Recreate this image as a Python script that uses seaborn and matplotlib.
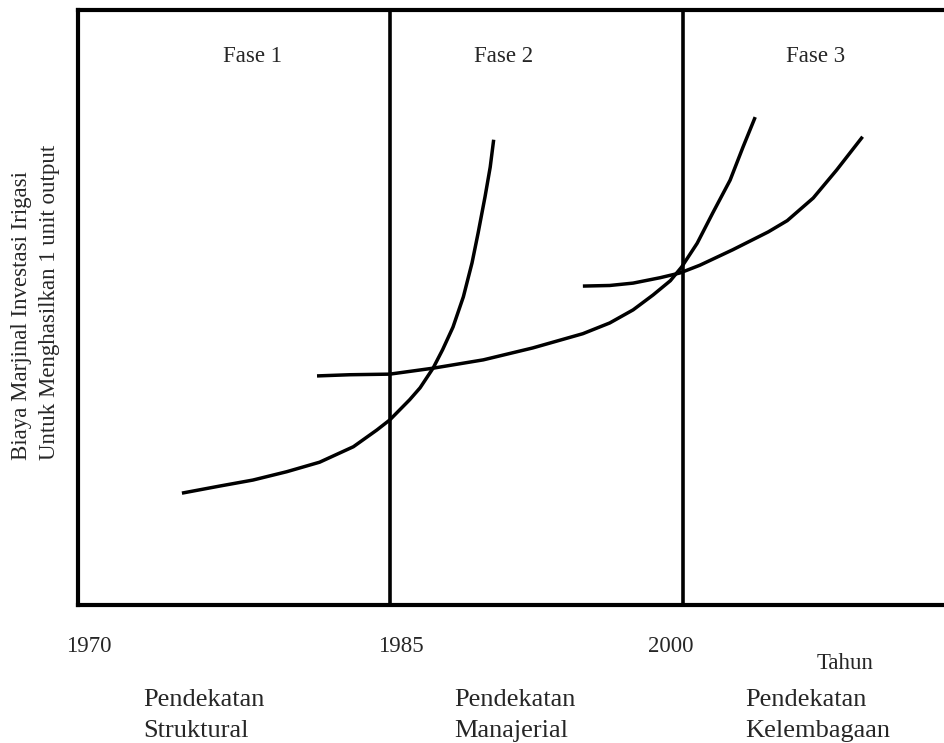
"""
Schematic chart: marginal cost of irrigation investment per unit output
across three phases (1970 - 2000+).

Outputs:
    out.png
"""

import matplotlib.pyplot as plt
import seaborn as sns


# ---------------------------------------------------------------------
# Data (x: position along the time axis, 0-100; y: relative cost, 0-100)
# ---------------------------------------------------------------------

CURVE_1_X = [12.0, 16.4, 20.2, 24.1, 27.9, 31.8, 34.5, 36.0, 38.3, 39.5,
             41.0, 42.1, 43.3, 44.5, 45.5, 46.2, 47.0, 47.6, 48.0]
CURVE_1_Y = [18.8, 20.0, 21.0, 22.4, 24.0, 26.6, 29.4, 31.1, 34.5, 36.5,
             39.8, 42.9, 46.7, 51.8, 57.5, 62.5, 68.6, 73.6, 78.2]

CURVE_2_X = [27.6, 31.4, 36.0, 41.0, 46.8, 52.5, 58.3, 61.4, 64.1, 66.4,
             68.4, 69.7, 71.5, 73.3, 75.3, 76.8, 78.2]
CURVE_2_Y = [38.5, 38.7, 38.8, 39.8, 41.2, 43.2, 45.6, 47.4, 49.6, 52.1,
             54.5, 56.8, 60.8, 65.9, 71.4, 77.0, 82.0]

CURVE_3_X = [58.3, 61.4, 64.1, 67.2, 69.5, 71.8, 75.6, 79.7, 81.9, 84.9,
             87.6, 90.6]
CURVE_3_Y = [53.6, 53.7, 54.1, 55.0, 55.8, 57.1, 59.7, 62.7, 64.6, 68.4,
             73.1, 78.7]

PHASE_BOUNDS = [36.0, 69.9]

PHASE_LABELS = ["Fase 1", "Fase 2", "Fase 3"]
PHASE_LABEL_X = [20.1, 49.1, 85.2]

YEAR_LABELS = ["1970", "1985", "2000"]
YEAR_TICK_X = [1.3, 37.3, 68.5]

APPROACH_LINE_1 = ["Pendekatan", "Pendekatan", "Pendekatan"]
APPROACH_LINE_2 = ["Struktural", "Manajerial", "Kelembagaan"]
APPROACH_X = [7.5, 43.5, 77.0]

Y_LABEL_LINES = ["Biaya Marjinal Investasi Irigasi",
                 "Untuk Menghasilkan 1 unit output"]


def main():
    sns.set_theme(style="white")
    plt.rcParams["font.family"] = ["Liberation Serif", "DejaVu Serif"]

    fig = plt.figure(figsize=(9.44, 7.43), dpi=100)
    ax = fig.add_axes([78 / 944, 138 / 743, 1 - 78 / 944, 595 / 743])

    for xs, ys in [(CURVE_1_X, CURVE_1_Y),
                   (CURVE_2_X, CURVE_2_Y),
                   (CURVE_3_X, CURVE_3_Y)]:
        sns.lineplot(x=xs, y=ys, ax=ax, color="black", linewidth=2.5,
                     sort=False, estimator=None, solid_capstyle="butt",
                     solid_joinstyle="round")

    for xb in PHASE_BOUNDS:
        ax.axvline(xb, color="black", linewidth=2.6)

    ax.set_xlim(0, 100)
    ax.set_ylim(0, 100)

    for side in ["left", "top", "bottom"]:
        ax.spines[side].set_color("black")
        ax.spines[side].set_linewidth(3)
    ax.spines["right"].set_visible(False)

    ax.set_yticks([])
    ax.set_xticks(YEAR_TICK_X)
    ax.set_xticklabels(YEAR_LABELS, fontsize=16.5)
    ax.tick_params(axis="x", length=0, pad=22)

    for label, x in zip(PHASE_LABELS, PHASE_LABEL_X):
        ax.text(x, 91.3, label, fontsize=16.5, ha="center", va="baseline")

    ax.text(88.6, -10.8, "Tahun", fontsize=16.5, ha="center", va="baseline")

    for l1, l2, x in zip(APPROACH_LINE_1, APPROACH_LINE_2, APPROACH_X):
        ax.text(x, -17.0, l1, fontsize=19, ha="left", va="baseline")
        ax.text(x, -22.2, l2, fontsize=19, ha="left", va="baseline")

    for line, bx in zip(Y_LABEL_LINES, [27, 55]):
        fig.text(bx / 944, (743 - 460) / 743, line, fontsize=16.5,
                 rotation=90, rotation_mode="anchor",
                 ha="left", va="baseline")

    fig.savefig("out.png", dpi=100)
    plt.close(fig)


if __name__ == "__main__":
    main()
